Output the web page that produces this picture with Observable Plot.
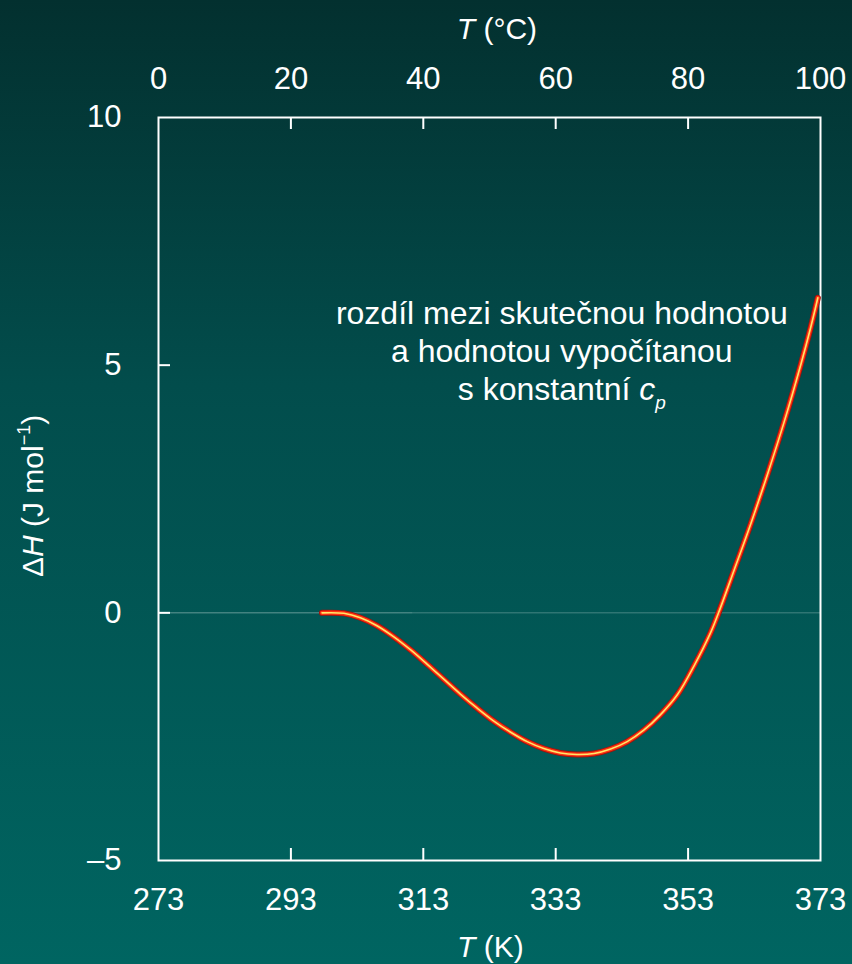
<!DOCTYPE html>
<html><head><meta charset="utf-8">
<script src="https://cdn.jsdelivr.net/npm/d3@7"></script>
<script src="https://cdn.jsdelivr.net/npm/@observablehq/plot@0.6"></script>
<style>
html,body{margin:0;padding:0;}
body{width:852px;height:964px;overflow:hidden;background:linear-gradient(to bottom,#03302f 0%,#024d4c 40%,#006561 100%);font-family:"Liberation Sans",Arial,sans-serif;}
svg{display:block;}
</style></head><body><div id="chart"></div>
<script>
// curve: ΔH (J/mol) vs T (K)
const tempK  = [297.7, 301.0, 303.5, 306.0, 308.5, 311.1, 313.6, 316.1, 318.6, 321.1, 323.6, 326.2, 328.7, 331.2, 333.7, 336.2, 338.8, 341.3, 343.8, 346.3, 348.8, 351.4, 353.9, 356.4, 357.6, 360.0, 362.5, 365.0, 367.5, 370.0, 371.5, 372.6];
const deltaH = [0, -0.01, -0.10, -0.26, -0.48, -0.75, -1.04, -1.34, -1.64, -1.92, -2.18, -2.41, -2.60, -2.74, -2.83, -2.86, -2.84, -2.75, -2.60, -2.37, -2.06, -1.65, -1.07, -0.40, 0, 0.88, 1.81, 2.80, 3.85, 5.0, 5.75, 6.36];
const kelvinTicks  = [273, 293, 313, 333, 353, 373];
const celsiusTicks = [0, 20, 40, 60, 80, 100];
const yTicks = [-5, 0, 5, 10];
const innerXTicks = [293, 313, 333, 353];
const innerYTicks = [0, 5];
const zeroHighlight = [{x1: 273, x2: 311.4}];
const noteLines = ["rozdíl mezi skutečnou hodnotou", "a hodnotou vypočítanou", "s konstantní "];
const noteSymbol = "c", noteSub = "p";
const xTitle = ["T", " (K)"], xTopTitle = ["T", " (°C)"];
const yTitle = ["Δ", "H", " (J mol", "−1", ")"];

const data = tempK.map((t, i) => ({t, dh: deltaH[i]}));
const W = 852, H = 964, mt = 117, mb = 104, ml = 158, mr = 32;
const innerH = H - mt - mb, innerW = W - ml - mr;
const FONT = "Liberation Sans, Arial, sans-serif";
const TICKFS = 31;

const plot = Plot.plot({
  width: W, height: H, marginTop: mt, marginBottom: mb, marginLeft: ml, marginRight: mr,
  style: {background: "transparent", color: "white", fontFamily: FONT, fontSize: TICKFS + "px"},
  x: {domain: [273, 373]},
  y: {domain: [-5, 10]},
  marks: [
    Plot.ruleY([0], {stroke: "white", strokeOpacity: 0.28, strokeWidth: 1}),
    Plot.ruleY(zeroHighlight, {y: () => 0, x1: "x1", x2: "x2", stroke: "white", strokeOpacity: 0.15, strokeWidth: 1}),
    Plot.ruleX(innerXTicks, {x: d => d, insetTop: innerH - 12, stroke: "white", strokeWidth: 2}),
    Plot.ruleX(innerXTicks, {x: d => d, insetBottom: innerH - 12, stroke: "white", strokeWidth: 2}),
    Plot.ruleY(innerYTicks, {y: d => d, insetRight: innerW - 12, stroke: "white", strokeWidth: 2}),
    Plot.frame({stroke: "white", strokeWidth: 2}),
    Plot.axisX(kelvinTicks, {anchor: "bottom", tickSize: 0, tickPadding: 27, label: null, fontSize: TICKFS}),
    Plot.axisX(kelvinTicks, {anchor: "top", tickSize: 0, tickPadding: 29, label: null, fontSize: TICKFS,
      tickFormat: d => String(celsiusTicks[kelvinTicks.indexOf(d)])}),
    Plot.axisY(yTicks, {anchor: "left", tickSize: 0, tickPadding: 37, label: null, fontSize: TICKFS,
      tickFormat: d => d < 0 ? "–" + Math.abs(d) : String(d)}),
    Plot.line(data, {x: "t", y: "dh", stroke: "#a8100a", strokeWidth: 6, curve: "catmull-rom"}),
    Plot.line(data, {x: "t", y: "dh", stroke: "#ff3412", strokeWidth: 4.2, curve: "catmull-rom"}),
    Plot.line(data, {x: "t", y: "dh", stroke: "#ffe66a", strokeWidth: 1.6, curve: "catmull-rom"})
  ]
});
document.getElementById("chart").appendChild(plot);

const sx = plot.scale("x"), sy = plot.scale("y");
const svg = d3.select(plot);

// axis titles
const bt = svg.append("text").attr("x", sx.apply(323.2)).attr("y", 957)
  .attr("text-anchor", "middle").attr("fill", "white").attr("font-family", FONT).attr("font-size", 30);
bt.append("tspan").attr("font-style", "italic").text(xTitle[0]);
bt.append("tspan").text(xTitle[1]);

const tt = svg.append("text").attr("x", sx.apply(324.2)).attr("y", 39)
  .attr("text-anchor", "middle").attr("fill", "white").attr("font-family", FONT).attr("font-size", 30);
tt.append("tspan").attr("font-style", "italic").text(xTopTitle[0]);
tt.append("tspan").text(xTopTitle[1]);

const yt = svg.append("text")
  .attr("transform", `translate(43,${sy.apply(2.35)}) rotate(-90)`)
  .attr("text-anchor", "middle").attr("fill", "white").attr("font-family", FONT).attr("font-size", 30);
yt.append("tspan").text(yTitle[0]);
yt.append("tspan").attr("font-style", "italic").text(yTitle[1]);
yt.append("tspan").text(yTitle[2]);
yt.append("tspan").attr("font-size", 18).attr("dy", "-0.75em").text(yTitle[3]);
yt.append("tspan").attr("dy", "0.45em").text(yTitle[4]);

// annotation
const noteX = sx.apply(334);
const noteY = [5.83, 5.05, 4.28];
noteLines.forEach((line, i) => {
  const t = svg.append("text").attr("x", noteX).attr("y", sy.apply(noteY[i]))
    .attr("text-anchor", "middle").attr("fill", "white").attr("font-family", FONT).attr("font-size", 32);
  t.append("tspan").text(line);
  if (i === 2) {
    t.append("tspan").attr("font-style", "italic").text(noteSymbol);
    t.append("tspan").attr("font-style", "italic").attr("font-size", 19).attr("dy", "0.45em").text(noteSub);
  }
});
</script>
</body></html>
